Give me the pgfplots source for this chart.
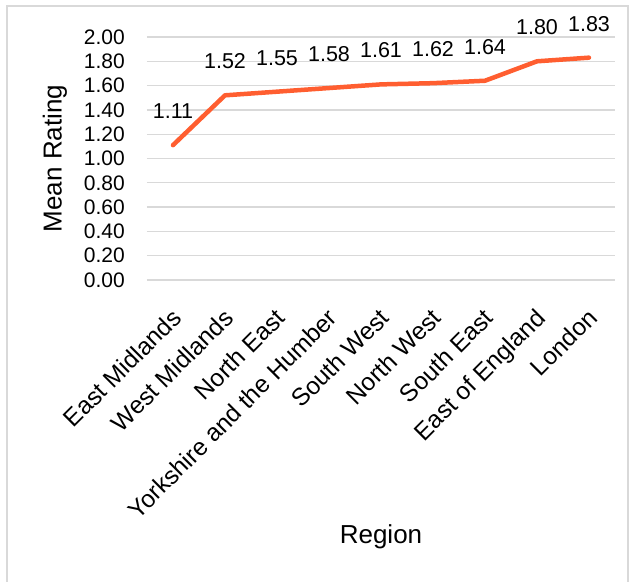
\documentclass[border=0pt]{standalone}
\usepackage{pgfplots}
\pgfplotsset{compat=1.18}
\usepackage{fontspec}
\setmainfont{Liberation Sans}
\definecolor{lineorange}{RGB}{255,94,48}
\definecolor{gridgray}{RGB}{217,217,217}
\begin{document}
\begin{tikzpicture}
\useasboundingbox (-147pt,-301pt) rectangle (489pt,280pt);
\draw[gridgray, line width=1.5pt] (-140pt,-330pt) -- (-140pt,274pt) -- (481pt,274pt) -- (481pt,-330pt);
\begin{axis}[
  at={(0pt,0pt)}, anchor=south west,
  scale only axis, width=468pt, height=243pt,
  xmin=-0.5, xmax=8.5, ymin=0, ymax=2,
  clip=false,
  axis line style={draw=none},
  major tick length=0pt,
  ymajorgrids, grid style={gridgray, line width=1.3pt},
  ytick={0,0.2,...,2.01},
  yticklabel style={font=\fontsize{21}{21}\selectfont, inner sep=0pt, xshift=-22pt,
    /pgf/number format/.cd, fixed, fixed zerofill, precision=2, assume math mode=true},
  xtick={0,...,8},
  xticklabels={East Midlands, West Midlands, North East, Yorkshire and the Humber, South West, North West, South East, East of England, London},
  xticklabel style={font=\fontsize{24.5}{24.5}\selectfont, rotate=45, anchor=north east, inner sep=0pt, yshift=-17pt, xshift=-21pt},
  ylabel={Mean Rating},
  ylabel style={font=\fontsize{26}{26}\selectfont, at={(axis description cs:-0.1966,0.5)}, anchor=center},
  xlabel={Region},
  xlabel style={font=\fontsize{26}{26}\selectfont, at={(axis description cs:0.5,-1.0576)}, anchor=center},
  nodes near coords,
  every node near coord/.append style={text=black, font=\fontsize{21.5}{21.5}\selectfont, inner sep=0pt, anchor=south, yshift=24pt,
    /pgf/number format/.cd, fixed, fixed zerofill, precision=2, assume math mode=true},
]
\addplot[lineorange, line width=4.5pt, line join=round, line cap=round, mark=none] coordinates {
 (0,1.11) (1,1.52) (2,1.55) (3,1.58) (4,1.61) (5,1.62) (6,1.64) (7,1.80) (8,1.83)
};
\end{axis}
\end{tikzpicture}
\end{document}
